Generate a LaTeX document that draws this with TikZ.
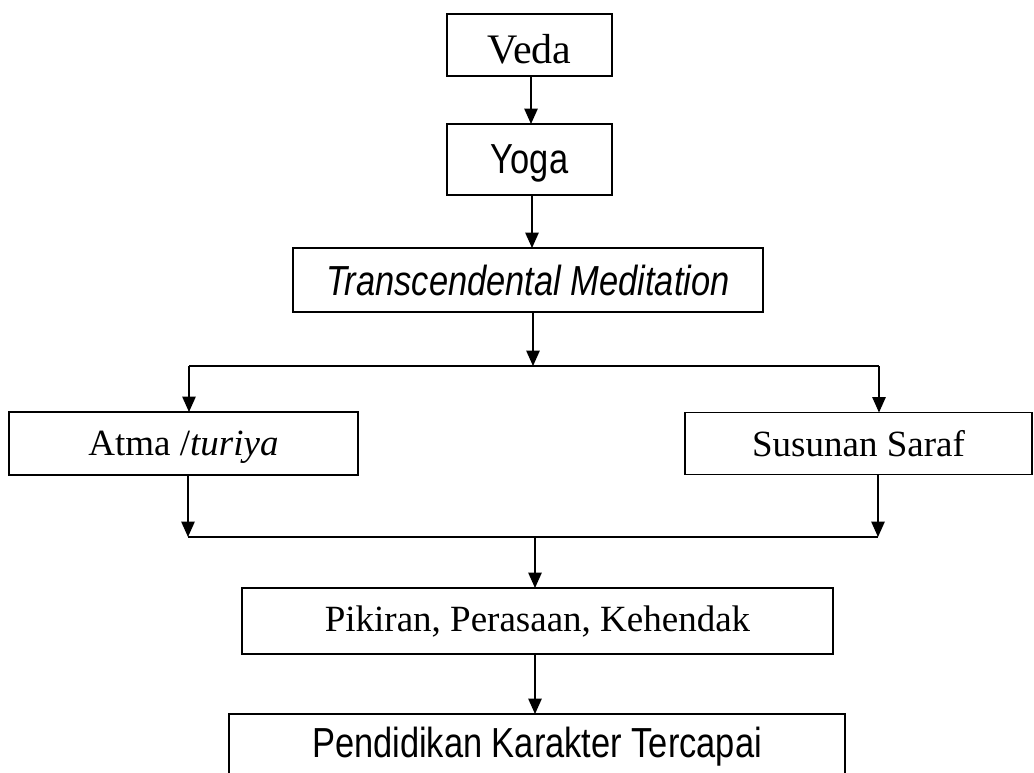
\documentclass[tikz,border=0pt]{standalone}
\usepackage{fontspec}
\setmainfont{Liberation Serif}
\newfontfamily\narrowsans[FakeStretch=0.82]{Liberation Sans}
\usetikzlibrary{arrows.meta}
\newcommand\bigserif{\fontsize{31.5}{36}\selectfont}
\newcommand\midserif{\fontsize{27.75}{32}\selectfont}
\newcommand\bignarrow{\narrowsans\fontsize{31.5}{36}\selectfont}
\tikzset{
  box/.style={draw, line width=1.1pt, inner sep=0pt, outer sep=0pt, align=center},
  conn/.style={line width=1.1pt},
  arr/.style={line width=1.1pt, -{Triangle[length=11.5pt,width=10pt]}}
}
\begin{document}
\begin{tikzpicture}[x=0.75pt, y=-0.75pt]
\useasboundingbox (0,0) rectangle (1034,772);
\node[box, minimum width=123.75pt, minimum height=46.5pt, text height=27pt, text depth=0pt] (veda) at (529.5,45) {\bigserif Veda};
\node[box, minimum width=123.75pt, minimum height=53.25pt, text depth=0pt] (yoga) at (529.5,159.5) {\bignarrow Yoga};
\node[box, minimum width=352.5pt, minimum height=48pt] (tm) at (528,280) {\bignarrow\itshape Transcendental Meditation};
\node[box, minimum width=261.75pt, minimum height=47.25pt, text depth=0pt] (atma) at (183.5,443.5) {\midserif Atma /\textit{turiya}};
\node[box, minimum width=260.25pt, minimum height=46.5pt] (saraf) at (858.5,443.5) {\midserif Susunan Saraf};
\node[box, minimum width=443.25pt, minimum height=49.5pt] (pikiran) at (537.5,621) {\midserif Pikiran, Perasaan, Kehendak};
\node[box, minimum width=462pt, minimum height=49.5pt] (pendidikan) at (537,747) {\bignarrow Pendidikan Karakter Tercapai};

\coordinate (split) at (533,366);
\coordinate (splitL) at (189,366);
\coordinate (splitR) at (879,366);
\coordinate (join) at (535,537);
\coordinate (joinL) at (188,537);
\coordinate (joinR) at (878,537);

\draw[arr] (veda.south -| 531,0) -- (yoga.north -| 531,0);
\draw[arr] (yoga.south -| 532,0) -- (tm.north -| 532,0);
\draw[arr] (tm.south -| split) -- (split);
\draw[conn] (splitL) -- (splitR);
\draw[arr] (splitL) -- (atma.north -| splitL);
\draw[arr] (splitR) -- (saraf.north -| splitR);
\draw[arr] (atma.south -| joinL) -- (joinL);
\draw[arr] (saraf.south -| joinR) -- (joinR);
\draw[conn] (joinL) -- (joinR);
\draw[arr] (join) -- (pikiran.north -| join);
\draw[arr] (pikiran.south -| join) -- (pendidikan.north -| join);
\end{tikzpicture}
\end{document}
